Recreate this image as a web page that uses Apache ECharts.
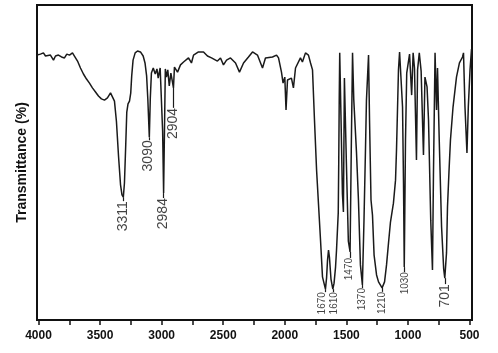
<!DOCTYPE html>
<html><head><meta charset="utf-8">
<script src="https://cdn.jsdelivr.net/npm/echarts@6/dist/echarts.min.js"></script>
<style>html,body{margin:0;padding:0;background:#fff}#c{width:498px;height:353px}</style>
</head><body><div id="c"></div>
<script>
const wavenumbers = [4012,3984,3960,3943,3927,3903,3878,3862,3838,3813,3789,3770,3748,3724,3708,3683,3659,3635,3610,3586,3562,3537,3513,3489,3464,3440,3415,3399,3383,3367,3350,3334,3322,3311,3302,3292,3283,3273,3261,3251,3243,3232,3215,3196,3172,3150,3135,3122,3112,3100,3092,3083,3068,3052,3038,3028,3012,3000,2992,2984,2977,2970,2961,2950,2938,2925,2914,2904,2896,2871,2847,2822,2782,2758,2741,2701,2660,2628,2595,2579,2547,2522,2498,2473,2441,2400,2368,2335,2295,2262,2222,2181,2157,2100,2067,2051,2027,2014,2000,1990,1978,1962,1946,1930,1913,1897,1873,1857,1832,1808,1791,1775,1759,1742,1726,1710,1694,1670,1661,1653,1645,1637,1625,1610,1600,1588,1580,1572,1566,1562,1558,1554,1544,1532,1524,1516,1500,1484,1470,1460,1450,1440,1418,1402,1386,1370,1357,1345,1337,1320,1312,1300,1288,1275,1255,1239,1210,1190,1174,1158,1142,1118,1101,1093,1085,1077,1068,1044,1036,1030,1020,1010,987,970,958,947,931,922,908,893,874,862,845,833,815,801,793,780,768,760,746,727,710,701,687,679,667,655,634,606,582,557,549,537,521,510,496,484];
const transmittance = [84.1,84.4,84.8,83.8,84.4,84.1,82.5,83.8,84.1,83.5,83.2,84.4,84.1,84.8,83.8,82.2,80.0,78.1,76.5,75.2,73.7,72.4,71.1,70.2,69.8,70.5,72.1,71.7,69.5,63.0,52.0,43.0,39.7,39.0,43.5,55.0,66.0,68.6,69.5,72.0,77.5,82.5,84.8,85.4,85.1,83.8,81.6,77.5,70.0,58.0,70.5,78.4,80.0,78.1,79.7,76.8,80.0,80.3,60.0,40.3,60.0,79.7,77.1,79.4,74.3,78.4,76.0,73.7,80.3,78.7,81.0,81.9,83.2,81.6,84.1,85.1,85.1,83.8,83.2,83.5,82.2,83.2,81.0,82.5,83.2,81.6,78.7,81.6,83.5,85.1,84.1,80.0,83.2,83.5,84.1,83.2,78.7,75.2,77.1,66.7,76.2,75.6,76.8,73.7,80.0,80.6,83.2,81.9,84.8,84.1,81.6,79.4,63.5,47.6,36.5,25.4,13.7,9.8,13.3,19.0,22.2,19.7,13.0,9.8,11.7,16.8,22.2,22.8,34.0,50.0,70.0,84.8,65.0,40.0,34.3,76.8,50.0,25.0,21.6,55.0,84.8,70.0,53.3,38.1,17.5,11.1,31.7,54.0,69.8,84.1,63.5,38.1,33.3,20.6,14.3,12.1,10.2,12.1,17.5,24.4,31.1,37.1,44.4,54.0,66.7,79.4,85.1,67.6,43.0,16.8,57.1,78.4,84.4,71.4,84.8,80.0,50.8,79.4,84.8,79.0,52.4,77.1,74.0,63.5,31.7,15.9,46.0,84.8,66.7,80.0,57.1,29.5,16.2,13.3,21.3,35.9,47.0,57.1,67.6,77.1,81.6,83.5,84.8,67.6,53.0,67.6,79.4,86.0];
const xTickLabels = [4000,3500,3000,2500,2000,1500,1000,500];
const xTicks = [4000,3750,3500,3250,3000,2750,2500,2250,2000,1750,1500,1250,1000,750,500];
const peakLabels = ['3311','3090','2984','2904','1670','1610','1470','1370','1210','1030','701'];
const yAxisName = 'Transmittance (%)';

// label styling (font size, pixel gap below band minimum, horizontal pixel shift)
const labelStyle = {
  '3311':{size:14,gap:4,dx:0}, '3090':{size:14,gap:3,dx:-1}, '2984':{size:14,gap:5,dx:0}, '2904':{size:14,gap:20,dx:0},
  '1670':{size:10,gap:3,dx:-3}, '1610':{size:10,gap:3,dx:1}, '1470':{size:10,gap:6,dx:-1}, '1370':{size:10,gap:3,dx:0},
  '1210':{size:10,gap:4,dx:0}, '1030':{size:10,gap:5,dx:1}, '701':{size:14,gap:6,dx:0}
};
const PX_T = 100/315;          // transmittance units per pixel
const PX_W = (4012-480)/435;   // wavenumber units per pixel

const spectrum = wavenumbers.map((w,i)=>[w, transmittance[i]]);

// locate each labelled band minimum from the spectrum
const peaks = peakLabels.map(t=>{
  const v = Number(t);
  let best = null;
  spectrum.forEach(p=>{ if (Math.abs(p[0]-v) <= 15 && (!best || p[1] < best[1])) best = p; });
  return {text:t, wn:best[0], t:best[1]};
});

const chart = echarts.init(document.getElementById('c'), null, {renderer:'canvas'});
const FONT = '"Liberation Sans", Arial, sans-serif';
chart.setOption({
  animation:false,
  backgroundColor:'#fff',
  grid:{left:37, right:26, top:5, bottom:33, show:true, borderColor:'#111', borderWidth:2, backgroundColor:'transparent'},
  xAxis:{
    type:'value', inverse:true, min:480, max:4012,
    splitLine:{show:false},
    axisLine:{show:true, onZero:false, lineStyle:{color:'#111', width:2}},
    axisTick:{show:true, customValues:xTicks, length:5, inside:false, lineStyle:{color:'#111', width:1.5}},
    axisLabel:{show:true, customValues:xTicks, margin:10, fontFamily:FONT, fontWeight:'bold', fontSize:12, color:'#111',
      formatter:v => xTickLabels.indexOf(v) >= 0 ? String(v) : ''}
  },
  yAxis:{
    type:'value', min:0, max:100,
    name:yAxisName, nameLocation:'middle', nameRotate:90, nameGap:8,
    nameTextStyle:{fontFamily:FONT, fontWeight:'bold', fontSize:14, color:'#111'},
    splitLine:{show:false},
    axisLine:{show:true, lineStyle:{color:'#111', width:2}},
    axisTick:{show:false}, axisLabel:{show:false}
  },
  series:[
    {type:'line', data:spectrum, showSymbol:false, symbol:'none', smooth:false,
     lineStyle:{color:'#1a1a1a', width:1.5}, silent:true, z:3},
    {type:'scatter', symbolSize:0, silent:true, z:4,
     data:peaks.map(p=>({
       value:[p.wn - labelStyle[p.text].dx*PX_W, p.t - labelStyle[p.text].gap*PX_T],
       label:{show:true, formatter:p.text, rotate:90, position:'inside', align:'right', verticalAlign:'middle',
              fontFamily:FONT, fontSize:labelStyle[p.text].size, color:'#111'}
     })),
     markLine:{silent:true, symbol:['none','none'], label:{show:false},
       lineStyle:{color:'#1a1a1a', width:1.2, type:'solid'},
       data:peaks.map(p=>[{coord:[p.wn, p.t]}, {coord:[p.wn, p.t - labelStyle[p.text].gap*PX_T]}])
     }
    }
  ]
});
</script></body></html>
